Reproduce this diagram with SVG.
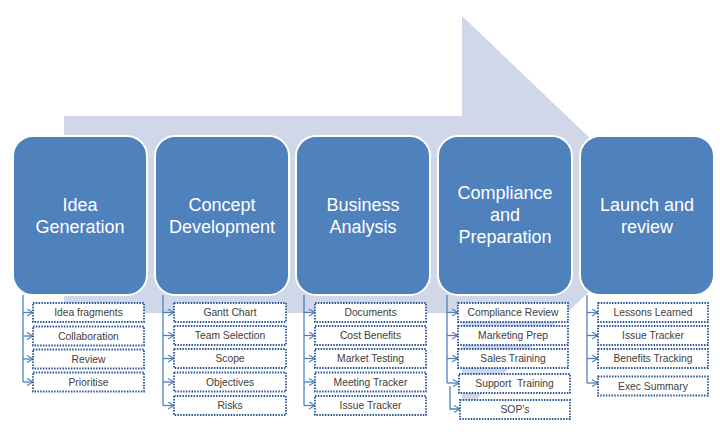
<svg xmlns="http://www.w3.org/2000/svg" width="720" height="443" viewBox="0 0 720 443">
<style>
.stage rect{fill:#4F81BD;stroke:#FFFFFF;stroke-width:2}
.stage text{font-family:"Liberation Sans",Arial,sans-serif;font-size:18px;fill:#FFFFFF;text-anchor:middle}
.item rect{fill:#FFFFFF;stroke:#2A5597;stroke-width:1.8;stroke-dasharray:1.5 1.3}
.item text{font-family:"Liberation Sans",Arial,sans-serif;font-size:10.3px;fill:#404040;text-anchor:middle}
.conn path{fill:none;stroke:#4F81BD;stroke-width:1.3}
.conn .arr{marker-end:url(#chev)}
</style>
<defs>
<marker id="chev" markerWidth="8" markerHeight="8" refX="7" refY="4" orient="auto" markerUnits="userSpaceOnUse">
<path d="M1,0.5 L7,4 L1,7.5" fill="none" stroke="#4F81BD" stroke-width="1.2"/>
</marker>
</defs>
<rect width="720" height="443" fill="#FFFFFF"/>
<polygon id="bg-arrow" points="64,116 462,116 462,16 670,214.5 462,413 462,313 64,313" fill="#CFD7E8"/>

<g id="connectors" class="conn">
<path d="M23,295 V382"/>
<path class="arr" d="M23,312.5 H33"/><path class="arr" d="M23,336 H33"/><path class="arr" d="M23,359 H33"/><path class="arr" d="M23,382 H33"/>
<path d="M163,295 V405.5"/>
<path class="arr" d="M163,312.5 H174"/><path class="arr" d="M163,335.5 H174"/><path class="arr" d="M163,358.5 H174"/><path class="arr" d="M163,382 H174"/><path class="arr" d="M163,405.5 H174"/>
<path d="M304,295 V405.5"/>
<path class="arr" d="M304,312.5 H315"/><path class="arr" d="M304,335.5 H315"/><path class="arr" d="M304,358.5 H315"/><path class="arr" d="M304,382 H315"/><path class="arr" d="M304,405.5 H315"/>
<path d="M447,295 V383"/>
<path class="arr" d="M447,312.5 H458"/><path class="arr" d="M447,335.5 H458"/><path class="arr" d="M447,358.5 H458"/><path class="arr" d="M447,383 H459"/>
<path class="arr" d="M450,386 V409 H460"/>
<path d="M587,295 V383"/>
<path class="arr" d="M587,312.5 H598"/><path class="arr" d="M587,335.5 H598"/><path class="arr" d="M587,358.5 H598"/><path class="arr" d="M587,383 H598"/>
</g>

<g id="stage-idea" class="stage"><rect x="13" y="136" width="134" height="159" rx="20"/><text x="80" y="211">Idea</text><text x="80" y="233">Generation</text></g>
<g id="stage-concept" class="stage"><rect x="155" y="136" width="134" height="159" rx="20"/><text x="222" y="211">Concept</text><text x="222" y="233">Development</text></g>
<g id="stage-business" class="stage"><rect x="296" y="136" width="134" height="159" rx="20"/><text x="363" y="211">Business</text><text x="363" y="233">Analysis</text></g>
<g id="stage-compliance" class="stage"><rect x="438" y="136" width="134" height="159" rx="20"/><text x="505" y="199">Compliance</text><text x="505" y="221">and</text><text x="505" y="243">Preparation</text></g>
<g id="stage-launch" class="stage"><rect x="580" y="136" width="134" height="159" rx="20"/><text x="647" y="211">Launch and</text><text x="647" y="233">review</text></g>

<g id="item-idea-1" class="item"><rect x="33" y="303" width="111" height="19"/><text x="88.5" y="316">Idea fragments</text></g>
<g id="item-idea-2" class="item"><rect x="33" y="326.5" width="111" height="19"/><text x="88.5" y="339.5">Collaboration</text></g>
<g id="item-idea-3" class="item"><rect x="33" y="349.5" width="111" height="19"/><text x="88.5" y="362.5">Review</text></g>
<g id="item-idea-4" class="item"><rect x="33" y="372.5" width="111" height="19"/><text x="88.5" y="385.5">Prioritise</text></g>

<g id="item-concept-1" class="item"><rect x="174" y="303" width="112" height="19"/><text x="230" y="316">Gantt Chart</text></g>
<g id="item-concept-2" class="item"><rect x="174" y="326" width="112" height="19"/><text x="230" y="339">Team Selection</text></g>
<g id="item-concept-3" class="item"><rect x="174" y="349" width="112" height="19"/><text x="230" y="362">Scope</text></g>
<g id="item-concept-4" class="item"><rect x="174" y="372.5" width="112" height="19"/><text x="230" y="385.5">Objectives</text></g>
<g id="item-concept-5" class="item"><rect x="174" y="396" width="112" height="19"/><text x="230" y="409">Risks</text></g>

<g id="item-business-1" class="item"><rect x="315" y="303" width="111" height="19"/><text x="370.5" y="316">Documents</text></g>
<g id="item-business-2" class="item"><rect x="315" y="326" width="111" height="19"/><text x="370.5" y="339">Cost Benefits</text></g>
<g id="item-business-3" class="item"><rect x="315" y="349" width="111" height="19"/><text x="370.5" y="362">Market Testing</text></g>
<g id="item-business-4" class="item"><rect x="315" y="372.5" width="111" height="19"/><text x="370.5" y="385.5">Meeting Tracker</text></g>
<g id="item-business-5" class="item"><rect x="315" y="396" width="111" height="19"/><text x="370.5" y="409">Issue Tracker</text></g>

<g id="item-compliance-1" class="item"><rect x="458" y="303" width="110" height="19"/><text x="513" y="316">Compliance Review</text></g>
<g id="item-compliance-2" class="item"><rect x="458" y="326" width="110" height="19"/><text x="513" y="339">Marketing Prep</text></g>
<g id="item-compliance-3" class="item"><rect x="458" y="349" width="110" height="19"/><text x="513" y="362">Sales Training</text></g>
<g id="item-compliance-4" class="item"><rect x="459" y="374" width="111" height="19"/><text x="514.5" y="387">Support&#160; Training</text></g>
<g id="item-compliance-5" class="item"><rect x="460" y="400" width="110" height="19"/><text x="515" y="413">SOP’s</text></g>

<g id="item-launch-1" class="item"><rect x="598" y="303" width="110" height="19"/><text x="653" y="316">Lessons Learned</text></g>
<g id="item-launch-2" class="item"><rect x="598" y="326" width="110" height="19"/><text x="653" y="339">Issue Tracker</text></g>
<g id="item-launch-3" class="item"><rect x="598" y="349" width="110" height="19"/><text x="653" y="362">Benefits Tracking</text></g>
<g id="item-launch-4" class="item"><rect x="598" y="376.5" width="110" height="19"/><text x="653" y="389.5">Exec Summary</text></g>
</svg>
